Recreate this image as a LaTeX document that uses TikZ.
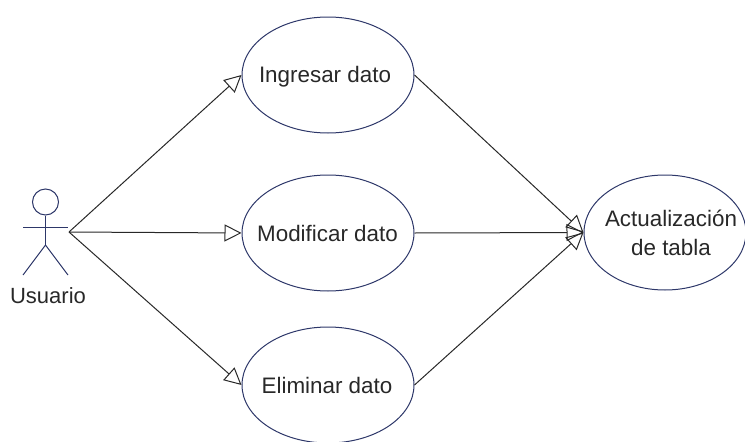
\documentclass[tikz,border=0pt]{standalone}
\usepackage{fontspec}
\setmainfont{Liberation Sans}
\usetikzlibrary{shapes.geometric,arrows.meta}
\definecolor{navy}{RGB}{45,55,105}
\definecolor{ink}{RGB}{40,40,40}
\tikzset{
 uc/.style={draw=navy,ellipse,inner sep=0pt,line width=1pt},
 uctext/.style={align=center,text=ink,inner sep=0pt,font=\fontsize{22.4}{29}\selectfont},
 hollow/.style={draw=ink,line width=1pt,-{Triangle[open,length=17pt,width=17pt]}},
 lin/.style={draw=navy,line width=1pt}
}
\begin{document}
\begin{tikzpicture}[x=1pt,y=-1pt]
\useasboundingbox (0,0) rectangle (745,442);
\node[uc,minimum width=172pt,minimum height=116pt,label={[uctext,xshift=-3pt,yshift=-2pt]center:Ingresar dato}] (ing) at (328,75) {};
\node[uc,minimum width=172pt,minimum height=116pt,label={[uctext,xshift=-0.5pt]center:Modificar dato}] (mod) at (328,233) {};
\node[uc,minimum width=172pt,minimum height=116pt,label={[uctext,xshift=-1pt]center:Eliminar dato}] (eli) at (328,385) {};
\node[uc,minimum width=162pt,minimum height=115pt,label={[uctext,xshift=6pt]center:Actualización\\de tabla}] (act) at (665,232.5) {};
\coordinate (hand) at (69,232);
\coordinate (armr) at (68,227);
\coordinate (arml) at (23,227);
\node[draw=navy,circle,line width=1pt,minimum size=26pt,inner sep=0pt] (head) at (45.5,202) {};
\coordinate (hip) at (45.5,245);
\coordinate (footl) at (23,275);
\coordinate (footr) at (68,275);
\node[text=ink,font=\fontsize{22}{29}\selectfont] (lab) at (48,296) {Usuario};
\draw[lin] (head.south) -- (hip);
\draw[lin] (arml) -- (armr);
\draw[lin] (footl) -- (hip) -- (footr);
\draw[hollow] (hand) -- (ing.west);
\draw[hollow] (hand) -- (mod.west);
\draw[hollow] (hand) -- (eli.west);
\draw[hollow] (ing.east) -- (act.west);
\draw[hollow] (mod.east) -- (act.west);
\draw[hollow] (eli.east) -- (act.west);
\end{tikzpicture}
\end{document}
